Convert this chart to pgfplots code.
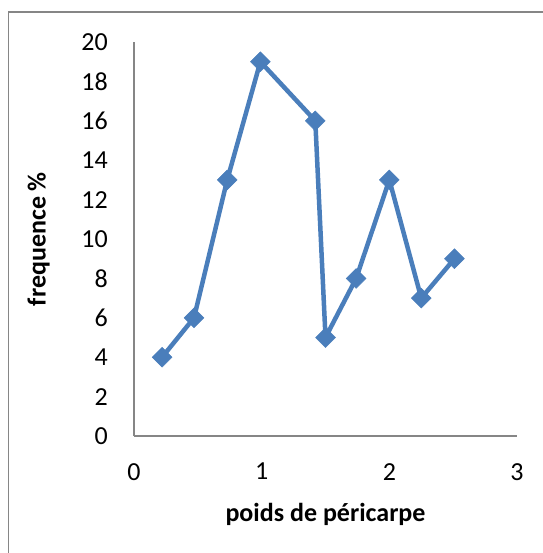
\documentclass[border=0pt]{standalone}
\usepackage{pgfplots}
\pgfplotsset{compat=1.18}
\usepackage{fontspec}
\setmainfont{Carlito}
\definecolor{serblue}{HTML}{4A7EBB}
\definecolor{axgray}{HTML}{868686}
\begin{document}
\begin{tikzpicture}[x=1bp,y=1bp]
\useasboundingbox (0,0) rectangle (543,-553);
\draw[axgray, line width=1.5bp] (8.5,-553) -- (8.5,-12) -- (543,-12);
\begin{axis}[
  at={(134bp,-436bp)}, anchor=south west,
  scale only axis, width=383bp, height=394bp,
  xmin=0, xmax=3, ymin=0, ymax=20,
  xtick={0,1,2,3}, ytick={0,2,...,20},
  axis x line*=bottom, axis y line*=left,
  axis line style={axgray, line width=1.2bp, -},
  major tick length=0pt,
  font=\fontsize{26bp}{30bp}\selectfont,
  /pgf/number format/assume math mode=true,
  yticklabel style={anchor=east, inner sep=0pt, xshift=-26bp},
  xticklabel style={anchor=north, inner sep=0pt, yshift=-27bp},
  xlabel={\bfseries poids de péricarpe},
  ylabel={\bfseries frequence \%},
  xlabel style={at={(axis description cs:0.5,0)}, anchor=north, inner sep=0pt, yshift=-67bp},
  ylabel style={at={(axis description cs:0,0.5)}, anchor=south, inner sep=0pt, yshift=84bp},
  clip=false,
]
\addplot[serblue, line width=4.5bp, mark=square*, mark size=7bp,
  mark options={rotate=45, fill=serblue, draw=serblue, line width=0.5bp}]
  coordinates {(0.22,4) (0.47,6) (0.73,13) (0.99,19) (1.42,16) (1.5,5) (1.74,8) (2.0,13) (2.25,7) (2.51,9)};
\end{axis}
\end{tikzpicture}
\end{document}
